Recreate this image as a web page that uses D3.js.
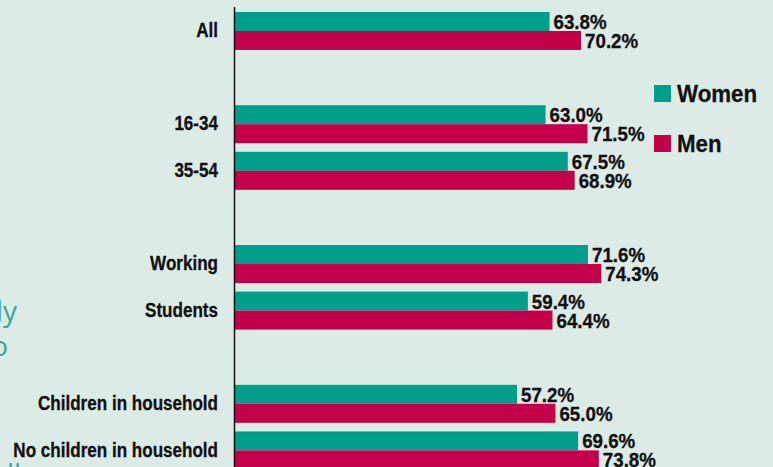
<!DOCTYPE html>
<html>
<head>
<meta charset="utf-8">
<script src="https://cdn.jsdelivr.net/npm/d3@7"></script>
<style>
  html, body { margin: 0; padding: 0; background: #dcebe5; }
  svg { display: block; }
</style>
</head>
<body>
<svg width="773" height="467"></svg>
<script>
// rows, null = spacer row between blocks
let groups = ["All", null, "16-34", "35-54", null, "Working", "Students", null, "Children in household", "No children in household"];
let women  = [63.8, null, 63.0, 67.5, null, 71.6, 59.4, null, 57.2, 69.6];
let men    = [70.2, null, 71.5, 68.9, null, 74.3, 64.4, null, 65.0, 73.8];
let seriesNames = ["Women", "Men"];
let colors = ["#009f8c", "#c5004a"];

let svg = d3.select('svg');
let fontBold = "'Liberation Sans', Arial, sans-serif";
let squeezeCat = 0.875;
let squeezeVal = 0.96;

// background text cut off on the left of the crop
let frag = svg.append("g")
  .style("font-family", "'Open Sans', sans-serif")
  .style("font-weight", 400)
  .style("font-size", "28px")
  .style("fill", "#3aa797");
frag.append("text").attr("x", 17).attr("y", 321).attr("text-anchor", "end").text("ly");
frag.append("text").attr("x", 8).attr("y", 356).attr("text-anchor", "end").text("o");
frag.append("text").attr("x", 7).attr("y", 484).text("ll");

let x = d3.scaleLinear().domain([0, 100]).range([235, 728]);
let y = d3.scaleBand()
  .domain(d3.range(groups.length))
  .range([12, 469.4])
  .paddingInner(0.185)
  .paddingOuter(0);
let ySub = d3.scaleBand().domain(seriesNames).range([0, y.bandwidth()]);

let rows = [];
groups.forEach((g, i) => {
  if (g === null) return;
  rows.push({i: i, s: "Women", v: women[i]});
  rows.push({i: i, s: "Men", v: men[i]});
});

svg.selectAll("rect.bar")
  .data(rows).enter()
  .append("rect")
  .attr("class", "bar")
  .attr("x", x(0))
  .attr("y", d => y(d.i) + ySub(d.s))
  .attr("width", d => x(d.v) - x(0))
  .attr("height", ySub.bandwidth())
  .attr("fill", d => colors[seriesNames.indexOf(d.s)]);

// value labels
svg.selectAll("text.val")
  .data(rows).enter()
  .append("text")
  .attr("class", "val")
  .attr("transform", d => "translate(" + (x(d.v) + 4) + "," + (y(d.i) + ySub(d.s) + ySub.bandwidth() / 2 + 0.5) + ") scale(" + squeezeVal + ",1)")
  .attr("dy", "0.36em")
  .style("font-family", fontBold)
  .style("font-weight", "bold")
  .style("font-size", "19.5px")
  .style("fill", "#111")
  .style("stroke", "#111")
  .style("stroke-width", 0.3)
  .text(d => d.v.toFixed(1) + "%");

// category labels
let yAxis = svg.append("g")
  .attr("transform", "translate(234,0)")
  .call(d3.axisLeft(y).tickSize(0).tickPadding(16).tickFormat(i => groups[i] || ""));
yAxis.select(".domain").remove();
yAxis.selectAll("text")
  .attr("transform", "scale(" + squeezeCat + ",1)")
  .attr("x", -16 / squeezeCat)
  .style("font-family", fontBold)
  .style("font-weight", "bold")
  .style("font-size", "19.5px")
  .style("fill", "#111")
  .style("stroke", "#111")
  .style("stroke-width", 0.3);

// axis line
svg.append("line")
  .attr("x1", 234.5).attr("x2", 234.5)
  .attr("y1", 7).attr("y2", 467)
  .attr("stroke", "#111")
  .attr("stroke-width", 1.5);

// legend
let legend = svg.selectAll("g.leg")
  .data(seriesNames).enter()
  .append("g")
  .attr("class", "leg")
  .attr("transform", (d, i) => "translate(654," + (85 + i * 50) + ")");
legend.append("rect")
  .attr("width", 17).attr("height", 17)
  .attr("fill", (d, i) => colors[i]);
legend.append("text")
  .attr("transform", "translate(23,17) scale(0.93,1)")
  .style("font-family", fontBold)
  .style("font-weight", "bold")
  .style("font-size", "24px")
  .style("fill", "#111")
  .style("stroke", "#111")
  .style("stroke-width", 0.3)
  .text(d => d);
</script>
</body>
</html>
